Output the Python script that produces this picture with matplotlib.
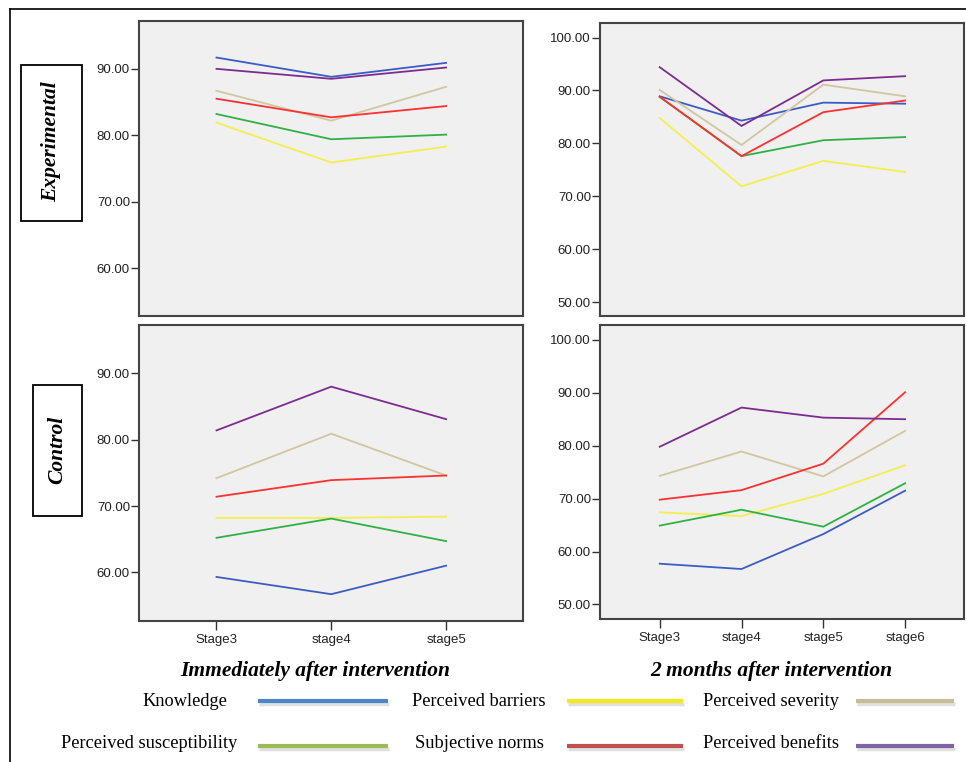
import matplotlib
matplotlib.use('Agg')
import matplotlib.pyplot as plt
from matplotlib import font_manager
from matplotlib.patches import Rectangle
from matplotlib.lines import Line2D

# data
stages_imm = ['Stage3', 'stage4', 'stage5']
stages_2m = ['Stage3', 'stage4', 'stage5', 'stage6']
series = ['Knowledge', 'Perceived barriers', 'Perceived severity',
          'Perceived susceptibility', 'Subjective norms', 'Perceived benefits']

exp_imm_knowledge = [91.7, 88.8, 90.9]
exp_imm_barriers = [81.9, 75.9, 78.3]
exp_imm_severity = [86.7, 82.2, 87.3]
exp_imm_suscept = [83.2, 79.4, 80.1]
exp_imm_norms = [85.5, 82.7, 84.4]
exp_imm_benefits = [90.0, 88.5, 90.2]

exp_2m_knowledge = [88.9, 84.3, 87.7, 87.5]
exp_2m_barriers = [84.8, 71.9, 76.7, 74.6]
exp_2m_severity = [90.1, 79.7, 91.1, 88.9]
exp_2m_suscept = [88.8, 77.6, 80.6, 81.2]
exp_2m_norms = [88.8, 77.6, 85.9, 88.1]
exp_2m_benefits = [94.4, 83.3, 91.9, 92.7]

ctl_imm_knowledge = [59.3, 56.7, 61.0]
ctl_imm_barriers = [68.2, 68.2, 68.4]
ctl_imm_severity = [74.2, 80.9, 74.6]
ctl_imm_suscept = [65.2, 68.1, 64.7]
ctl_imm_norms = [71.4, 73.9, 74.6]
ctl_imm_benefits = [81.4, 88.0, 83.1]

ctl_2m_knowledge = [57.7, 56.7, 63.3, 71.5]
ctl_2m_barriers = [67.4, 66.7, 70.9, 76.3]
ctl_2m_severity = [74.3, 78.9, 74.2, 82.8]
ctl_2m_suscept = [64.9, 67.9, 64.7, 72.9]
ctl_2m_norms = [69.8, 71.6, 76.6, 90.1]
ctl_2m_benefits = [79.8, 87.2, 85.3, 85.0]

yt_imm = [60, 70, 80, 90]
yt_2m = [50, 60, 70, 80, 90, 100]

# colours of the plot lines and of the legend swatches
line_colors = ['#3c5cc4', '#f4ee50', '#d0c7a0', '#2eb244', '#ff3030', '#7c2c90']
legend_colors = ['#4a86c8', '#f2ea1a', '#c4bd97', '#9bbb59', '#c0504d', '#8064a2']

W, H = 966, 762
fig = plt.figure(figsize=(W / 100, H / 100), dpi=100)

names = {f.name for f in font_manager.fontManager.ttflist}
sans = 'Liberation Sans Narrow' if 'Liberation Sans Narrow' in names else 'Liberation Sans'
sans_size = 10.5 if sans == 'Liberation Sans Narrow' else 9.5
serif = 'Liberation Serif'


def px_axes(x0, y0, x1, y1):
    return fig.add_axes([x0 / W, 1 - y1 / H, (x1 - x0) / W, (y1 - y0) / H])


def panel(ax, cats, data, ylim, yticks, xlim, show_x):
    x = list(range(len(cats)))
    for vals, c in zip(data, line_colors):
        ax.plot(x, vals, color=c, lw=1.3, solid_joinstyle='miter')
    ax.set_facecolor('#f0f0f0')
    ax.set_xlim(*xlim)
    ax.set_ylim(*ylim)
    ax.set_yticks(yticks)
    ax.set_yticklabels([f'{v:.2f}' for v in yticks], fontfamily=sans, fontsize=sans_size,
                       color='#222222')
    ax.tick_params(axis='y', direction='out', length=6, width=1, pad=0.5, color='#333333')
    if show_x:
        ax.set_xticks(x)
        ax.set_xticklabels(cats, fontfamily=sans, fontsize=sans_size, color='#222222')
        ax.tick_params(axis='x', direction='out', length=6.5, width=1, pad=3, color='#333333')
    else:
        ax.set_xticks([])
    for s in ax.spines.values():
        s.set_color('#444444')
        s.set_linewidth(1.5)


ax_tl = px_axes(139, 21, 523, 316)
panel(ax_tl, stages_imm,
      [exp_imm_knowledge, exp_imm_barriers, exp_imm_severity, exp_imm_suscept, exp_imm_norms, exp_imm_benefits],
      (52.8, 97.2), yt_imm, (-0.675, 2.67), False)

ax_tr = px_axes(600, 22.7, 964, 316)
panel(ax_tr, stages_2m,
      [exp_2m_knowledge, exp_2m_barriers, exp_2m_severity, exp_2m_suscept, exp_2m_norms, exp_2m_benefits],
      (47.4, 102.8), yt_2m, (-0.73, 3.72), False)

ax_bl = px_axes(139, 325, 523, 620.7)
panel(ax_bl, stages_imm,
      [ctl_imm_knowledge, ctl_imm_barriers, ctl_imm_severity, ctl_imm_suscept, ctl_imm_norms, ctl_imm_benefits],
      (52.7, 97.3), yt_imm, (-0.675, 2.67), True)

ax_br = px_axes(600, 325, 964, 619.3)
panel(ax_br, stages_2m,
      [ctl_2m_knowledge, ctl_2m_barriers, ctl_2m_severity, ctl_2m_suscept, ctl_2m_norms, ctl_2m_benefits],
      (47.2, 102.8), yt_2m, (-0.73, 3.72), True)


def fx(x):
    return x / W


def fy(y):
    return 1 - y / H


# outer frame (top and left edges only are inside the picture)
fig.add_artist(Line2D([fx(10), fx(966)], [fy(9), fy(9)], color='black', lw=1.2))
fig.add_artist(Line2D([fx(10), fx(10)], [fy(9), fy(762)], color='black', lw=1.2))

# row labels in boxes
bold_it = dict(family=serif, weight='bold', style='italic', fontsize=15.5)
fig.add_artist(Rectangle((fx(21), fy(221)), fx(61), (221 - 65) / H, transform=fig.transFigure,
                         fill=False, ec='black', lw=1.3))
fig.text(fx(51.5), fy(142), 'Experimental', rotation=90, ha='center', va='center', **bold_it)
fig.add_artist(Rectangle((fx(33), fy(516)), fx(49), (516 - 385) / H, transform=fig.transFigure,
                         fill=False, ec='black', lw=1.3))
fig.text(fx(57.5), fy(450), 'Control', rotation=90, ha='center', va='center', **bold_it)

# column titles
fig.text(fx(315), fy(671), 'Immediately after intervention', ha='center', va='center', **bold_it)
fig.text(fx(771), fy(671), '2 months after intervention', ha='center', va='center', **bold_it)

# legend drawn by hand, two rows of three
text_right = [[227, 546, 839], [237, 544, 839]]
line_span = [(258, 388), (567, 683), (856, 954)]
row_text_y = [701, 744]
row_line_y = [701, 746]
for i, name in enumerate(series):
    r, c = divmod(i, 3)
    fig.text(fx(text_right[r][c]), fy(row_text_y[r]), name, ha='right', va='center',
             family=serif, fontsize=13.2)
    x0, x1 = line_span[c]
    fig.add_artist(Line2D([fx(x0 + 1), fx(x1 + 1)], [fy(row_line_y[r] + 2.5)] * 2,
                          color='#cccccc', lw=2.5, alpha=0.6, solid_capstyle='butt'))
    fig.add_artist(Line2D([fx(x0), fx(x1)], [fy(row_line_y[r])] * 2,
                          color=legend_colors[i], lw=3, solid_capstyle='butt'))

fig.savefig('out.png', dpi=100)
